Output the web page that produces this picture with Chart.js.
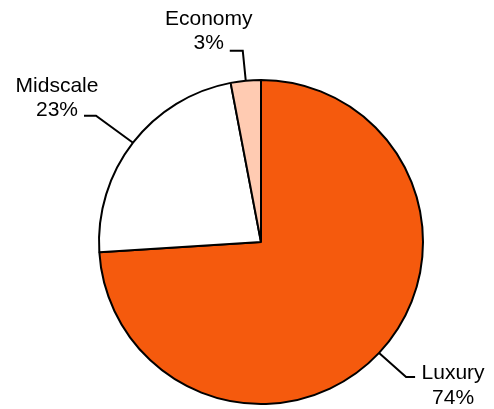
<!DOCTYPE html>
<html>
<head>
<meta charset="utf-8">
<script src="https://cdn.jsdelivr.net/npm/chart.js@4"></script>
<style>
  html, body { margin: 0; padding: 0; background: #fff; }
  canvas { display: block; }
</style>
</head>
<body>
<canvas id="segmentChart" width="494" height="409"></canvas>
<script>
const categories = ['Luxury', 'Midscale', 'Economy'];
const shares = [74, 23, 3];
const sliceColors = ['#F55A0D', '#FFFFFF', '#FFCBB2'];

// leader line layout per slice: elbow offset from arc edge, horizontal run, text offset from line end
const leaders = [
    { elbow: [27, 24], run: 9, text: [38, 2] },
    { elbow: [-37, -27], run: -12, text: [-27, 0] },
    { elbow: [-3, -30], run: -13, text: [-21, -2] }
];

const leaderPlugin = {
    id: 'leaderLabels',
    afterDatasetsDraw(chart) {
        const ctx = chart.ctx;
        const arcs = chart.getDatasetMeta(0).data;
        ctx.save();
        ctx.strokeStyle = '#000';
        ctx.lineWidth = 2;
        ctx.fillStyle = '#000';
        ctx.font = '21px "Liberation Sans", Arial, sans-serif';
        ctx.textAlign = 'center';
        ctx.textBaseline = 'alphabetic';
        arcs.forEach((arc, i) => {
            const mid = (arc.startAngle + arc.endAngle) / 2;
            const sx = arc.x + Math.cos(mid) * arc.outerRadius;
            const sy = arc.y + Math.sin(mid) * arc.outerRadius;
            const lay = leaders[i];
            const ex = sx + lay.elbow[0];
            const ey = sy + lay.elbow[1];
            const hx = ex + lay.run;
            ctx.beginPath();
            ctx.moveTo(sx, sy);
            ctx.lineTo(ex, ey);
            ctx.lineTo(hx, ey);
            ctx.stroke();
            const tx = hx + lay.text[0];
            const ty = ey + lay.text[1];
            if (lay.elbow[1] > 0) {
                ctx.fillText(categories[i], tx, ty);
                ctx.fillText(shares[i] + '%', tx, ty + 25);
            } else {
                ctx.fillText(categories[i], tx, ty - 24);
                ctx.fillText(shares[i] + '%', tx, ty);
            }
        });
        ctx.restore();
    }
};

const ctx = document.getElementById('segmentChart').getContext('2d');
const segmentChart = new Chart(ctx, {
    type: 'pie',
    data: {
        labels: categories,
        datasets: [{
            data: shares,
            backgroundColor: sliceColors,
            borderColor: '#000',
            borderWidth: 2
        }]
    },
    options: {
        responsive: false,
        animation: false,
        layout: {
            padding: { top: 79, bottom: 4, left: 90, right: 62 }
        },
        plugins: {
            legend: { display: false },
            tooltip: { enabled: false }
        }
    },
    plugins: [leaderPlugin]
});
</script>
</body>
</html>
